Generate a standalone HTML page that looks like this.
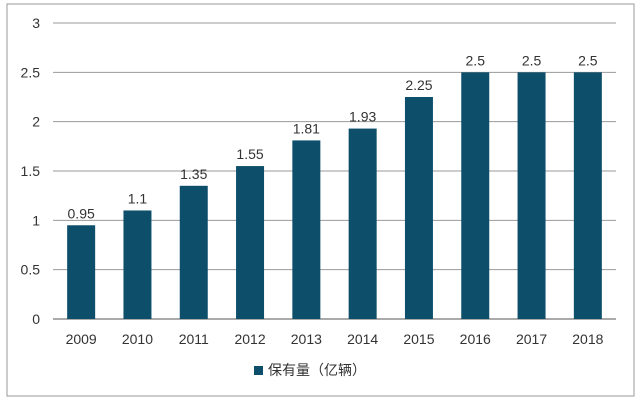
<!DOCTYPE html>
<html><head><meta charset="utf-8"><style>
body{margin:0;background:#fff;}
svg{display:block;font-family:"Liberation Sans","Noto Sans CJK SC",sans-serif;}
</style></head><body>
<svg width="640" height="404">
<rect x="7" y="4" width="627" height="392" fill="#fff" stroke="#999" stroke-width="1"/>
<g id="grid"></g><g id="bars"></g><g id="labels"></g>
<g>
<rect x="254" y="366" width="9" height="9" fill="#0d4f6b"/>
<text x="268" y="375" font-size="14" fill="#333">保有量（亿辆）</text>
</g>
</svg>
<script>
const categories=["2009","2010","2011","2012","2013","2014","2015","2016","2017","2018"];
const values=[0.95,1.1,1.35,1.55,1.81,1.93,2.25,2.5,2.5,2.5];
const valueLabels=["0.95","1.1","1.35","1.55","1.81","1.93","2.25","2.5","2.5","2.5"];
const yTicks=[0,0.5,1,1.5,2,2.5,3];
const yTickLabels=["0","0.5","1","1.5","2","2.5","3"];
const NS="http://www.w3.org/2000/svg";
const x0=53,x1=616,yb=319,yt=23,ymax=3;
const step=(x1-x0)/categories.length;
const y=v=>yb-(v/ymax)*(yb-yt);
const xc=i=>x0+step*(i+0.5);
function mk(tag,attrs,parent){const e=document.createElementNS(NS,tag);for(const k in attrs)e.setAttribute(k,attrs[k]);document.getElementById(parent).appendChild(e);return e;}
yTicks.forEach((t,i)=>{
 const l=mk("line",{x1:x0,x2:x1,y1:y(t),y2:y(t),stroke:i==0?"#555":"#999","stroke-width":1},"grid");
 
 
 const tx=mk("text",{x:40,y:y(t)+5,"text-anchor":"end","font-size":14,fill:"#333"},"grid");
 tx.textContent=yTickLabels[i];
 
 
});
categories.forEach((c,i)=>{
 const b=mk("rect",{x:xc(i)-14,y:y(values[i]),width:28,height:yb-y(values[i]),fill:"#0d4f6b"},"bars");
 
 
 const v=mk("text",{x:xc(i),y:y(values[i])-7,"text-anchor":"middle","font-size":14,fill:"#333"},"labels");
 v.textContent=valueLabels[i];
 
 
 const t=mk("text",{x:xc(i),y:344,"text-anchor":"middle","font-size":14,fill:"#333"},"labels");
 t.textContent=c;
 
 
});
</script>
</body></html>
